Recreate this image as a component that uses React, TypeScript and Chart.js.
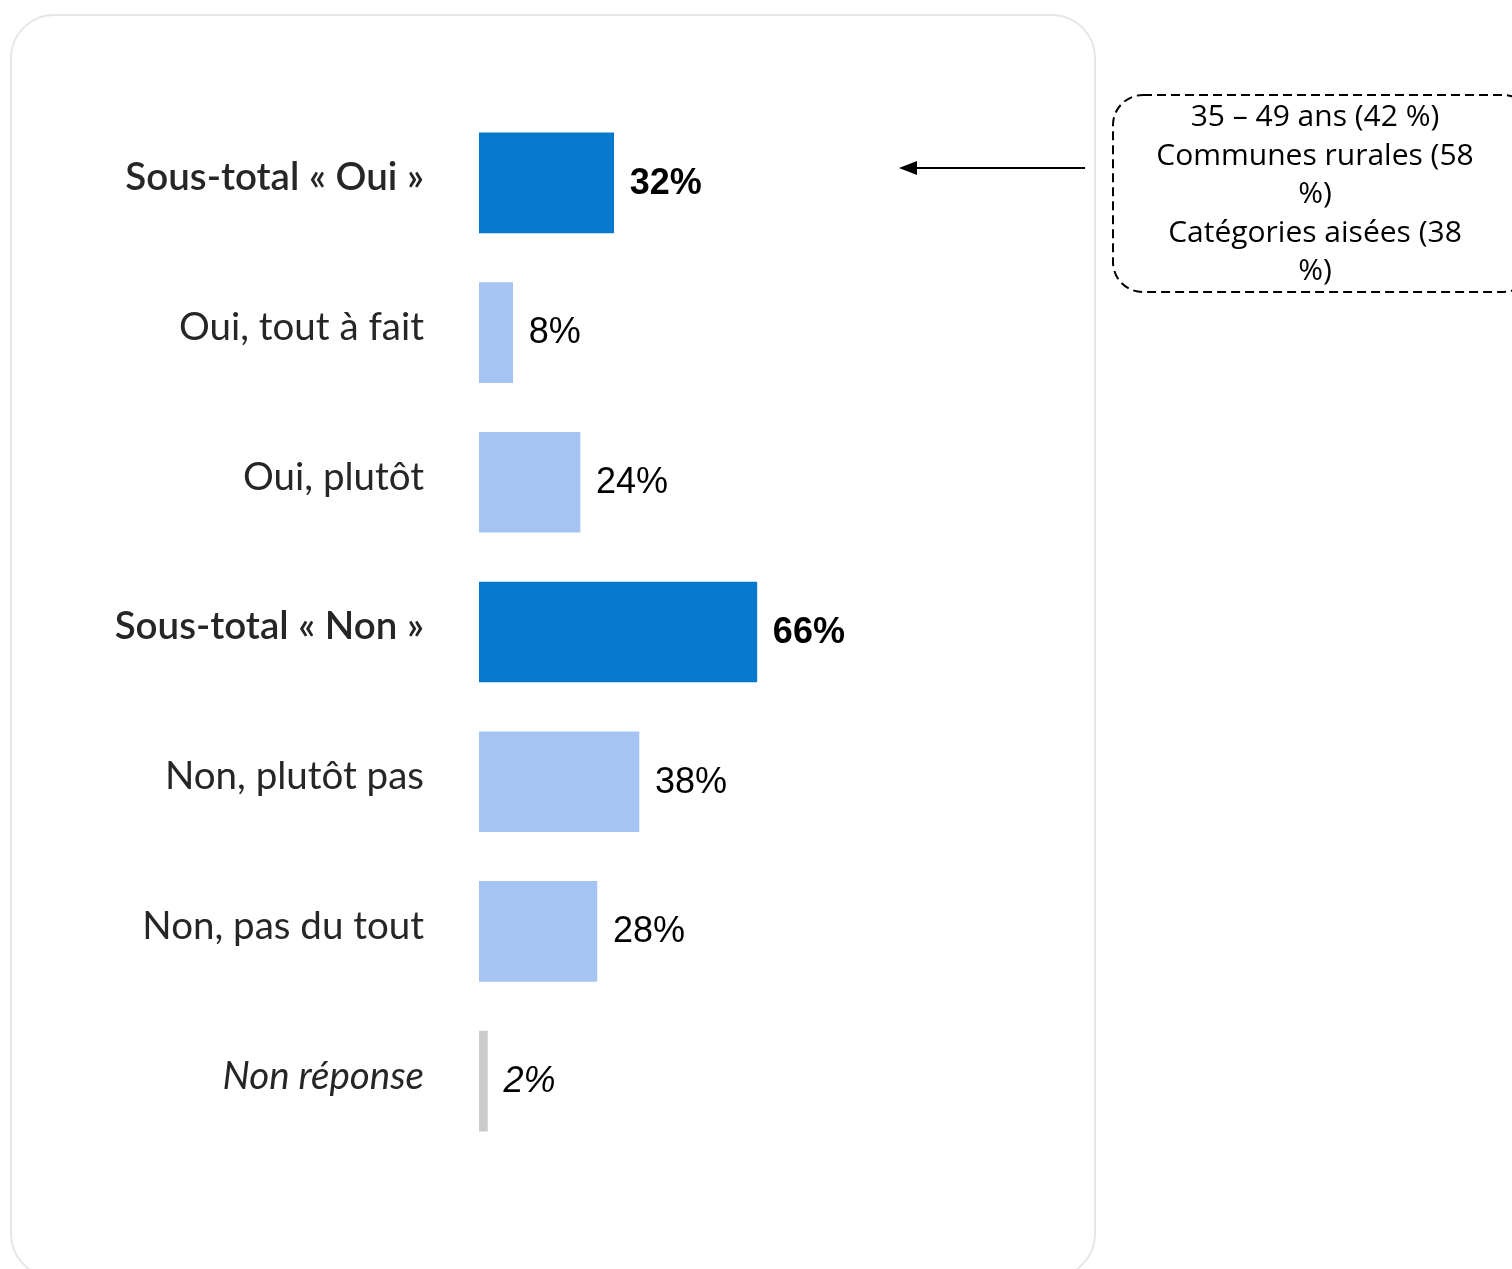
import React, { useEffect, useRef } from "react";
import { Chart, registerables } from "chart.js";

Chart.register(...registerables);

const categories = [
  "Sous-total « Oui »",
  "Oui, tout à fait",
  "Oui, plutôt",
  "Sous-total « Non »",
  "Non, plutôt pas",
  "Non, pas du tout",
  "Non réponse",
];
const values = [32, 8, 24, 66, 38, 28, 2];
const kinds = ["total", "detail", "detail", "total", "detail", "detail", "nr"];
const annotationLines = [
  "35 – 49 ans (42 %)",
  "Communes rurales (58",
  "%)",
  "Catégories aisées (38",
  "%)",
];

const DARK = "#0779CC";
const LIGHT = "#A5C4F2";
const GREY = "#CBCBCB";

const LABEL_FAMILY = "Lato, 'Noto Sans', sans-serif";
const VALUE_FAMILY = "'Liberation Sans', Arial, sans-serif";

const valueLabelPlugin = {
  id: "valueLabels",
  afterDatasetsDraw(chart: any) {
    const ctx = chart.ctx;
    const meta = chart.getDatasetMeta(0);
    ctx.save();
    ctx.textBaseline = "middle";
    ctx.textAlign = "left";
    ctx.fillStyle = "#000";
    meta.data.forEach((bar: any, i: number) => {
      const k = kinds[i];
      const style = k === "nr" ? "italic " : "";
      const weight = k === "total" ? "bold " : "";
      ctx.font = `${style}${weight}36px ${VALUE_FAMILY}`;
      ctx.fillText(values[i] + "%", bar.x + 16, bar.y + 1);
    });
    ctx.restore();
  },
};

export default function App() {
  const canvasRef = useRef<HTMLCanvasElement | null>(null);

  useEffect(() => {
    if (!canvasRef.current) return;
    const chart = new Chart(canvasRef.current, {
      type: "bar",
      data: {
        labels: categories,
        datasets: [
          {
            data: values,
            backgroundColor: kinds.map((k) =>
              k === "total" ? DARK : k === "nr" ? GREY : LIGHT
            ),
            barThickness: 100,
            borderWidth: 0,
          },
        ],
      },
      options: {
        indexAxis: "y",
        animation: false,
        responsive: false,
        maintainAspectRatio: false,
        devicePixelRatio: 1,
        layout: { padding: { top: 108, bottom: 113, left: 0, right: 200 } },
        plugins: {
          legend: { display: false },
          tooltip: { enabled: false },
        },
        scales: {
          x: {
            display: false,
            min: 0,
            max: 100,
          },
          y: {
            grid: { display: false, drawTicks: false },
            border: { display: false },
            afterFit: (scale: any) => {
              scale.width = 479;
            },
            ticks: {
              padding: 55,
              labelOffset: -5,
              color: "#262626",
              font: (ctx: any) => {
                const k = kinds[ctx.index];
                return {
                  family: LABEL_FAMILY,
                  size: 38.5,
                  weight: k === "total" ? "600" : "400",
                  style: k === "nr" ? "italic" : "normal",
                } as any;
              },
            },
          },
        },
      } as any,
      plugins: [valueLabelPlugin],
    });
    return () => chart.destroy();
  }, []);

  return (
    <div
      style={{
        position: "absolute",
        left: 0,
        top: 0,
        width: 1512,
        height: 1269,
        overflow: "hidden",
        background: "#fff",
      }}
    >
      <div
        style={{
          position: "absolute",
          left: 10,
          top: 14,
          width: 1082,
          height: 1260,
          border: "2px solid #e6e6e6",
          borderRadius: 44,
        }}
      />
      <canvas
        ref={canvasRef}
        width={1100}
        height={1269}
        style={{ position: "absolute", left: 0, top: 0, width: 1100, height: 1269 }}
      />
      <svg
        width={1512}
        height={1269}
        style={{ position: "absolute", left: 0, top: 0, pointerEvents: "none" }}
      >
        <line x1={1085} y1={168} x2={912} y2={168} stroke="#000" strokeWidth={2} />
        <polygon points="899,168 917,161 917,175" fill="#000" />
        <rect
          x={1113}
          y={95}
          width={420}
          height={197}
          rx={30}
          ry={30}
          fill="none"
          stroke="#000"
          strokeWidth={2}
          strokeDasharray="9 5"
        />
      </svg>
      <div
        style={{
          position: "absolute",
          left: 1115,
          top: 96,
          width: 400,
          textAlign: "center",
          fontFamily: "'Open Sans', 'Noto Sans', sans-serif",
          fontSize: 30,
          lineHeight: "38.5px",
          color: "#000",
        }}
      >
        {annotationLines.map((l, i) => (
          <div key={i}>{l}</div>
        ))}
      </div>
    </div>
  );
}
